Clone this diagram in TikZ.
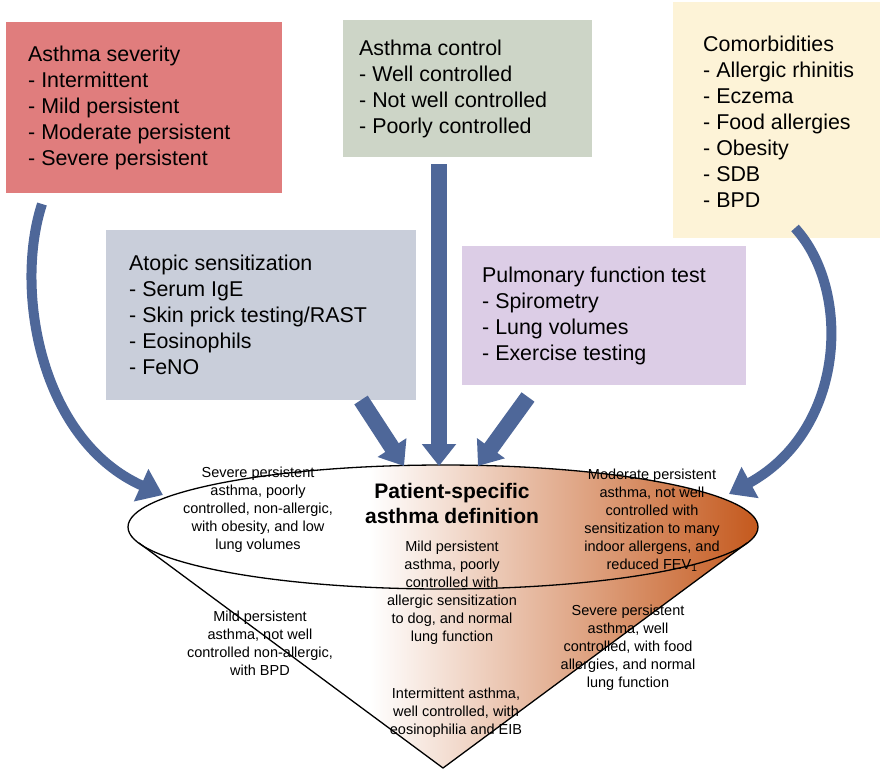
\documentclass[tikz,border=0pt]{standalone}
\usepackage{fontspec}
\setmainfont{Liberation Sans}
\usetikzlibrary{arrows.meta}

\definecolor{sevred}{RGB}{224,125,125}
\definecolor{ctrlgreen}{RGB}{205,213,199}
\definecolor{comcream}{RGB}{253,243,215}
\definecolor{atopblue}{RGB}{201,206,218}
\definecolor{pftlilac}{RGB}{220,205,230}
\definecolor{arrowblue}{RGB}{78,103,153}
\definecolor{coneorange}{RGB}{196,88,28}

\tikzset{
  infobox/.style={rectangle, draw=none, anchor=north west, inner sep=0pt},
  infotext/.style={anchor=west, align=left, inner sep=0pt,
    font=\fontsize{21.4}{26}\selectfont},
  conetext/.style={align=center, inner sep=0pt, font=\fontsize{14.5}{18}\selectfont},
  titletext/.style={align=center, inner sep=0pt, font=\bfseries\fontsize{21}{25}\selectfont},
  coneline/.style={draw=black, line width=1.3pt, line join=round},
  straightarrow/.style={draw=arrowblue, line width=16pt,
    -{Triangle[length=22pt,width=33pt]}},
  curvedarrow/.style={draw=arrowblue, line width=10pt,
    -{Triangle[length=24pt,width=34pt]}},
}

\begin{document}
\begin{tikzpicture}[x=1pt,y=-1pt]
\useasboundingbox (0,0) rectangle (882,769);

% ---------- input boxes ----------
\node[infobox, fill=sevred, minimum width=276pt, minimum height=171pt] (sev) at (6,22) {};
\node[infotext] (sevtxt) at ([xshift=22pt]sev.west)
  {Asthma severity\\- Intermittent\\- Mild persistent\\- Moderate persistent\\- Severe persistent};

\node[infobox, fill=ctrlgreen, minimum width=249pt, minimum height=137pt] (ctrl) at (343,20) {};
\node[infotext] (ctrltxt) at ([xshift=16pt]ctrl.west)
  {Asthma control\\- Well controlled\\- Not well controlled\\- Poorly controlled};

\node[infobox, fill=comcream, minimum width=207pt, minimum height=236pt] (com) at (673,2) {};
\node[infotext] (comtxt) at ([xshift=30pt,yshift=-2pt]com.west)
  {Comorbidities\\- Allergic rhinitis\\- Eczema\\- Food allergies\\- Obesity\\- SDB\\- BPD};

\node[infobox, fill=atopblue, minimum width=310pt, minimum height=170pt] (atop) at (106,230) {};
\node[infotext] (atoptxt) at ([xshift=23pt]atop.west)
  {Atopic sensitization\\- Serum IgE\\- Skin prick testing/RAST\\- Eosinophils\\- FeNO};

\node[infobox, fill=pftlilac, minimum width=284pt, minimum height=139pt] (pft) at (462,246) {};
\node[infotext] (pfttxt) at ([xshift=20pt]pft.west)
  {Pulmonary function test\\- Spirometry\\- Lung volumes\\- Exercise testing};

% ---------- cone geometry ----------
\coordinate (ec) at (443,527);
\coordinate (apex) at (443,768);
\coordinate (lt) at (139,543);
\coordinate (rt) at (747,543);

% gradient fill of the ellipse top and the cone body
\begin{scope}
  \clip (ec) ellipse [x radius=315pt, y radius=62pt];
  \shade[left color=white, right color=coneorange] (370,455) rectangle (760,770);
\end{scope}
\begin{scope}
  \clip (lt) -- (apex) -- (rt) -- cycle;
  \shade[left color=white, right color=coneorange] (370,455) rectangle (760,770);
\end{scope}

% ---------- texts inside the cone ----------
\node[titletext] (title) at (452,503) {Patient-specific\\asthma definition};
\node[conetext] (sevpoor) at (258,510) {Severe persistent\\asthma, poorly\\controlled, non-allergic,\\with obesity, and low\\lung volumes};
\node[conetext] (modnot) at (652,520) {Moderate persistent\\asthma, not well\\controlled with\\sensitization to many\\indoor allergens, and\\reduced FEV\textsubscript{1}};
\node[conetext] (mildpoor) at (452,593) {Mild persistent\\asthma, poorly\\controlled with\\allergic sensitization\\to dog, and normal\\lung function};
\node[conetext] (mildbpd) at (260,643) {Mild persistent\\asthma, not well\\controlled non-allergic,\\with BPD};
\node[conetext] (sevwell) at (628,648) {Severe persistent\\asthma, well\\controlled, with food\\allergies, and normal\\lung function};
\node[conetext] (interm) at (456,713) {Intermittent asthma,\\well controlled, with\\eosinophilia and EIB};

% outlines of the cone
\draw[coneline] (ec) ellipse [x radius=315pt, y radius=62pt];
\draw[coneline] (lt) -- (apex) -- (rt);

% ---------- arrows ----------
\coordinate (ctrlTail) at (439,164);
\coordinate (ctrlTip) at (439,466);
\coordinate (atopTail) at (361,400);
\coordinate (atopTip) at (404,466);
\coordinate (pftTail) at (528,397);
\coordinate (pftTip) at (478,466);
\coordinate (sevTail) at (42,204);
\coordinate (sevTip) at (163,495);
\coordinate (comTail) at (795,228);
\coordinate (comTip) at (729,494);

\draw[straightarrow] (ctrlTail) -- (ctrlTip);
\draw[straightarrow] (atopTail) -- (atopTip);
\draw[straightarrow] (pftTail) -- (pftTip);
\draw[curvedarrow] (sevTail) .. controls (14,290) and (40,440) .. (sevTip);
\draw[curvedarrow] (comTail) .. controls (852,290) and (846,430) .. (comTip);
\end{tikzpicture}
\end{document}
